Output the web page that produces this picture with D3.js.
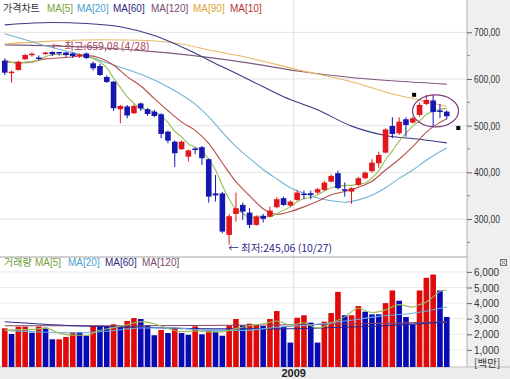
<!DOCTYPE html>
<html>
<head>
<meta charset="utf-8">
<script src="https://cdn.jsdelivr.net/npm/d3@7"></script>
<style>
  html, body { margin: 0; padding: 0; background: #fff; }
  svg { display: block; }
  text { font-family: "Liberation Sans", Arial, sans-serif; }
  .kr { font-family: "Noto Sans CJK KR", "Noto Sans", sans-serif; }
  .ax text { font-family: "Liberation Sans", Arial, sans-serif; font-size: 11px; fill: #333; }
</style>
</head>
<body>
<div id="chart"></div>
<script>
// weekly candles, 2008-03-10 .. 2009-06-08
const weeks = d3.timeMonday.range(new Date(2008, 2, 10), new Date(2009, 5, 9));

const opens = [639.2, 612.8, 619.3, 642.2, 652.5, 646.0, 654.6, 658.0, 657.8, 656.7,
  654.6, 648.2, 654.6, 633.6, 627.8, 604.3, 594.2, 535.1, 541.1, 526.5,
  547.5, 535.1, 530.0, 524.4, 487.2, 465.7, 449.5, 433.6, 451.0, 453.8,
  428.1, 354.8, 354.8, 266.0, 310.9, 330.2, 313.7, 287.4, 306.7, 305.2,
  325.3, 344.6, 328.7, 340.9, 354.4, 355.3, 356.6, 362.3, 380.1, 398.1,
  363.8, 358.7, 373.0, 387.4, 402.6, 419.5, 442.2, 499.4, 483.7, 513.7,
  506.4, 522.9, 546.5, 554.0, 532.5, 530.0];
const highs = [644.3, 617.8, 639.2, 653.5, 657.1, 650.3, 657.8, 659.08, 658.2, 658.0,
  656.7, 654.6, 656.7, 637.4, 632.1, 607.5, 595.7, 544.3, 544.3, 545.4,
  549.7, 537.9, 533.6, 526.5, 489.3, 468.3, 468.3, 449.0, 453.8, 456.5,
  429.8, 394.4, 358.1, 310.9, 356.6, 335.1, 323.2, 307.7, 310.9, 326.6,
  346.7, 348.0, 339.9, 362.3, 360.8, 360.8, 366.6, 381.6, 395.5, 403.7,
  378.4, 367.7, 390.2, 402.0, 428.1, 444.3, 494.0, 518.0, 518.0, 518.0,
  519.3, 549.2, 565.7, 565.7, 546.5, 532.5];
const lows = [608.5, 592.1, 617.8, 640.7, 647.7, 640.7, 651.4, 649.2, 650.3, 647.1,
  645.0, 645.0, 642.8, 618.2, 606.4, 591.4, 531.5, 505.1, 515.8, 525.0,
  531.5, 520.8, 518.0, 473.0, 462.3, 411.6, 448.0, 422.9, 438.8, 415.9,
  335.1, 337.3, 269.6, 245.06, 294.5, 298.1, 280.3, 285.3, 292.3, 303.9,
  323.2, 328.1, 325.9, 339.4, 342.4, 342.4, 353.8, 360.2, 378.4, 363.8,
  348.0, 332.4, 370.9, 385.2, 399.4, 409.4, 440.5, 473.0, 480.1, 476.4,
  504.7, 519.3, 544.3, 497.9, 516.5, 513.7];
const closes = [613.5, 615.6, 637.0, 651.4, 654.2, 642.8, 656.7, 652.9, 654.6, 651.4,
  649.2, 652.4, 645.0, 622.9, 608.5, 593.6, 537.3, 542.2, 521.8, 542.2,
  536.8, 525.0, 520.8, 482.2, 467.9, 440.9, 465.7, 446.9, 448.0, 430.2,
  348.0, 350.6, 273.0, 306.0, 323.2, 315.9, 287.4, 305.2, 300.2, 318.0,
  342.4, 330.2, 337.3, 356.6, 352.7, 351.6, 363.8, 378.0, 392.3, 366.0,
  360.8, 366.0, 387.4, 399.4, 420.8, 437.3, 491.9, 482.2, 508.6, 501.5,
  515.8, 544.3, 555.0, 529.3, 530.0, 520.1];

// volume (백만), and bar colour flags (R = up, B = down)
const volumes = [2385, 2020, 2490, 2490, 2100, 2490, 2420, 1680, 1680, 1830,
  2130, 2130, 1910, 2550, 2550, 2490, 2640, 2550, 2850, 3040,
  2980, 2580, 1940, 2280, 2080, 2420, 2080, 1970, 2510, 2000,
  2210, 2150, 1910, 2580, 2980, 2580, 2680, 2600, 2530, 2980,
  3490, 2470, 1470, 3060, 3220, 2750, 1470, 2810, 3360, 4720,
  3220, 3220, 3810, 3450, 3280, 3280, 4000, 4810, 4150, 3110,
  2640, 4810, 5620, 5830, 4810, 3110];
const volFlags = ("RBRRBRBBRR" + "RBBRBBRBRR" + "BBBRBRBBRB" + "RBBRRBRRBR" +
  "RBBRRBBRRR" + "BRRBBBRRBB" + "BRRRBB").split("");

// price moving averages, [week index, value]
const ma5 = [641, 636, 632, 636, 636, 641, 648, 652, 653, 652, 653, 652, 651, 644, 636, 624,
  602, 582, 562, 548, 537, 534, 529, 521, 507, 488, 476, 461, 454, 446, 428, 405, 372, 343,
  321, 313, 301, 306, 306, 305, 311, 319, 326, 337, 344, 346, 352, 360, 367, 370, 372, 372,
  375, 377, 388, 403, 427, 446, 467, 484, 499, 510, 524, 530, 535, 537];
const ma10 = [[0, 637], [3, 635], [6, 643], [9, 646], [12, 650], [14, 645], [16, 630], [18, 605],
  [20, 585], [22, 558], [24, 532], [26, 508], [28, 490], [30, 462], [32, 420], [34, 380],
  [36, 350], [38, 322], [40, 310], [42, 316], [44, 326], [46, 338], [48, 352], [50, 359],
  [52, 368], [54, 381], [56, 405], [58, 428], [60, 455], [62, 486], [64, 507], [65, 515]];
const ma20 = [[0, 697], [3, 684], [6, 671], [9, 660], [12, 649], [16, 630], [20, 610], [24, 583],
  [28, 546], [30, 519], [32, 486], [34, 455], [36, 430], [38, 406], [40, 386], [42, 367],
  [44, 355], [46, 345], [48, 339], [50, 336], [52, 341], [54, 351], [56, 367], [58, 387],
  [60, 405], [62, 426], [64, 444], [65, 452]];
const ma60 = [[0, 716], [7, 721], [12, 719], [17, 712], [22, 693], [27, 662], [32, 626], [36, 598],
  [41, 562], [46, 534], [51, 499], [56, 479], [61, 471], [65, 463]];
const ma90 = [[0, 675], [7, 681], [14, 684], [20, 683], [26, 675], [30, 662], [36, 645], [43, 620],
  [51, 594], [57, 568], [61, 555], [65, 541]];
const ma120 = [[0, 673], [7, 671], [14, 667], [24, 656], [36, 634], [43, 617], [51, 603], [58, 595],
  [65, 589]];

// volume moving averages
const vma5 = [[0, 2250], [2, 2300], [4, 2297], [6, 2398], [8, 2074], [10, 1948], [12, 1936], [14, 2254],
  [16, 2428], [18, 2616], [20, 2812], [22, 2678], [24, 2372], [26, 2160], [28, 2212], [30, 2154],
  [32, 2156], [34, 2366], [36, 2546], [38, 2674], [40, 2856], [42, 2588], [44, 2742], [46, 2394],
  [48, 2722], [50, 3116], [52, 3666], [54, 3396], [56, 3564], [58, 3904], [60, 3742], [61, 3904],
  [62, 4066], [63, 4402], [64, 4742], [65, 4836]];
const vma20 = [[0, 2250], [5, 2150], [10, 2100], [15, 2200], [20, 2400], [25, 2400], [30, 2250],
  [35, 2250], [40, 2450], [45, 2600], [50, 2850], [55, 3150], [60, 3350], [65, 3750]];
const vma60 = [[0, 2800], [10, 2550], [20, 2450], [30, 2350], [40, 2350], [50, 2450], [58, 2600], [65, 2800]];
const vma120 = [[0, 2550], [20, 2550], [40, 2600], [55, 2700], [65, 2780]];

const priceTicks = [300, 400, 500, 600, 700];
const priceMinor = [250, 350, 450, 550, 650];
const volTicks = [1000, 2000, 3000, 4000, 5000, 6000];

// marks drawn on the chart by hand in the original
const signals = [[60.2, 566], [66.7, 495]];
const circleMark = { i: 63.35, p: 531.5 };

const W = 510, H = 379;
const plotRight = 467, sepY = 257, volBottom = 367;
const RED = "#e2171c", BLUE = "#1616b0";

const svg = d3.select("#chart").append("svg").attr("width", W).attr("height", H);

const x = d3.scaleLinear().domain([0, 65]).range([4.75, 446.75]);
const y = d3.scaleLinear().domain([300, 700]).range([219, 32.3]);
const vy = d3.scaleLinear().domain([0, 6000]).range([365.5, 271.9]);
const bw = 5.6;

// backgrounds
svg.append("rect").attr("width", W).attr("height", H).attr("fill", "#fff");
svg.append("rect").attr("x", plotRight).attr("y", 0).attr("width", W - plotRight).attr("height", volBottom).attr("fill", "#efefef");
svg.append("rect").attr("x", 0).attr("y", volBottom).attr("width", W).attr("height", H - volBottom).attr("fill", "#ececec");

// grid
svg.append("g").selectAll("line").data(priceTicks).join("line")
  .attr("x1", 0).attr("x2", plotRight).attr("y1", d => y(d)).attr("y2", d => y(d))
  .attr("stroke", "#e3e3e3");
svg.append("g").selectAll("line").data(volTicks).join("line")
  .attr("x1", 0).attr("x2", plotRight).attr("y1", d => vy(d)).attr("y2", d => vy(d))
  .attr("stroke", "#ebebeb");

const k2009 = weeks.findIndex(d => d.getFullYear() === 2009);
const x2009 = (x(k2009 - 1) + x(k2009)) / 2;
svg.append("line").attr("x1", x2009).attr("x2", x2009).attr("y1", 0).attr("y2", volBottom)
  .attr("stroke", "#dedede");

// frame lines
svg.append("line").attr("x1", 0).attr("x2", plotRight).attr("y1", sepY).attr("y2", sepY).attr("stroke", "#a0a0a0");
svg.append("line").attr("x1", plotRight).attr("x2", plotRight).attr("y1", 0).attr("y2", volBottom).attr("stroke", "#b4b4b4");
svg.append("line").attr("x1", 0).attr("x2", W).attr("y1", volBottom).attr("y2", volBottom).attr("stroke", "#bdbdbd");

// price MAs (behind candles)
const line = d3.line().x(d => x(d[0])).y(d => y(d[1])).curve(d3.curveMonotoneX);
const priceLines = [
  [ma120, "#7e5a7c"], [ma90, "#e8b868"], [ma60, "#3a3a88"],
  [ma20, "#74b2d2"], [ma10, "#b8504a"], [ma5.map((v, i) => [i, v]), "#9cbc5a"]
];
priceLines.forEach(([data, color]) => {
  svg.append("path").datum(data).attr("d", line)
    .attr("fill", "none").attr("stroke", color).attr("stroke-width", 1.1);
});

// candles
const candles = svg.append("g").selectAll("g").data(d3.range(weeks.length)).join("g");
candles.append("line")
  .attr("x1", i => x(i)).attr("x2", i => x(i))
  .attr("y1", i => y(highs[i])).attr("y2", i => y(lows[i]))
  .attr("stroke", i => closes[i] >= opens[i] ? RED : BLUE);
candles.append("rect")
  .attr("x", i => x(i) - bw / 2).attr("width", bw)
  .attr("y", i => y(Math.max(opens[i], closes[i])))
  .attr("height", i => Math.max(1.5, Math.abs(y(opens[i]) - y(closes[i]))))
  .attr("fill", i => closes[i] >= opens[i] ? RED : BLUE);

// volume bars
svg.append("g").selectAll("rect").data(volumes).join("rect")
  .attr("x", (d, i) => x(i) - bw / 2).attr("width", bw)
  .attr("y", d => vy(d)).attr("height", d => volBottom - vy(d))
  .attr("fill", (d, i) => volFlags[i] === "R" ? "#e00a0a" : "#0a0ab4");

const vline = d3.line().x(d => x(d[0])).y(d => vy(d[1])).curve(d3.curveMonotoneX);
[[vma120, "#86446a"], [vma60, "#2a2a96"], [vma20, "#6aaee6"], [vma5, "#9cbc5a"]].forEach(([data, color]) => {
  svg.append("path").datum(data).attr("d", vline)
    .attr("fill", "none").attr("stroke", color).attr("stroke-width", 1.1);
});

// right axes
const fmtPrice = d => d3.format(".2f")(d).replace(".", ",");
const pAxis = svg.append("g").attr("class", "ax").attr("transform", `translate(${plotRight},0)`)
  .call(d3.axisRight(y).tickValues(priceTicks).tickSize(5).tickPadding(2).tickFormat(fmtPrice));
pAxis.select(".domain").remove();
pAxis.selectAll("line").attr("stroke", "#666");
pAxis.selectAll("text").attr("textLength", 26).attr("lengthAdjust", "spacingAndGlyphs");
svg.append("g").selectAll("line").data(priceMinor).join("line")
  .attr("x1", plotRight).attr("x2", plotRight + 3).attr("y1", d => y(d)).attr("y2", d => y(d))
  .attr("stroke", "#888");

const vAxis = svg.append("g").attr("class", "ax").attr("transform", `translate(${plotRight},0)`)
  .call(d3.axisRight(vy).tickValues(volTicks).tickSize(5).tickPadding(2).tickFormat(d3.format(",")));
vAxis.select(".domain").remove();
vAxis.selectAll("line").attr("stroke", "#666");
vAxis.selectAll("text").attr("textLength", 25).attr("lengthAdjust", "spacingAndGlyphs");
svg.append("text").attr("class", "kr").attr("x", 474).attr("y", 366.5)
  .attr("font-size", 10.5).attr("fill", "#333").text("[백만]");

// small close box on the volume pane
svg.append("rect").attr("x", 500.5).attr("y", 259.5).attr("width", 6).attr("height", 6)
  .attr("fill", "none").attr("stroke", "#777");
svg.append("path").attr("d", "M501.5,260.5L505.5,264.5M505.5,260.5L501.5,264.5").attr("stroke", "#777");

// x label
svg.append("text").attr("x", x2009).attr("y", 377).attr("text-anchor", "middle")
  .attr("font-size", 11).attr("font-weight", "bold").attr("fill", "#222").text("2009");

// legends
const priceLegend = [["가격차트", 3, "#333"], ["MA[5]", 47, "#7aa23e"], ["MA[20]", 77, "#4a9fd0"],
  ["MA[60]", 113, "#2c2c7c"], ["MA[120]", 151, "#7a4a6e"], ["MA[90]", 193, "#e0a434"], ["MA[10]", 230, "#b43434"]];
svg.append("g").selectAll("text").data(priceLegend).join("text")
  .attr("class", (d, i) => i === 0 ? "kr" : null)
  .attr("x", d => d[1]).attr("y", 12).attr("font-size", 10).attr("fill", d => d[2]).text(d => d[0]);

const volLegend = [["거래량", 4, "#6e9a3c"], ["MA[5]", 35, "#7aa23e"], ["MA[20]", 68, "#4a9fd0"],
  ["MA[60]", 105, "#2c2c7c"], ["MA[120]", 142, "#7a4a6e"]];
svg.append("g").selectAll("text").data(volLegend).join("text")
  .attr("class", (d, i) => i === 0 ? "kr" : null)
  .attr("x", d => d[1]).attr("y", 266).attr("font-size", 10).attr("fill", d => d[2]).text(d => d[0]);

// high / low notes
const hiIdx = highs.indexOf(d3.max(highs));
const loIdx = lows.indexOf(d3.min(lows));
const fmtDate = d3.timeFormat("%-m/%-d");
svg.append("text").attr("class", "kr").attr("x", x(hiIdx) - 1).attr("y", 50)
  .attr("font-size", 10.5).attr("fill", "#a8405a")
  .text("← 최고:" + fmtPrice(highs[hiIdx]) + " (" + fmtDate(weeks[hiIdx]) + ")");
svg.append("text").attr("class", "kr").attr("x", x(loIdx) - 1).attr("y", 252)
  .attr("font-size", 10.5).attr("fill", "#2c2c8c")
  .text("← 최저:" + fmtPrice(lows[loIdx]) + " (" + fmtDate(weeks[loIdx]) + ")");

// black signal squares and the circled area
svg.append("g").selectAll("rect").data(signals).join("rect")
  .attr("x", d => x(d[0]) - 2).attr("y", d => y(d[1]) - 2).attr("width", 4).attr("height", 4)
  .attr("fill", "#000");
svg.append("ellipse").attr("cx", x(circleMark.i)).attr("cy", y(circleMark.p))
  .attr("rx", 23).attr("ry", 16).attr("fill", "none").attr("stroke", "#7c3c7c").attr("stroke-width", 1.2);
</script>
</body>
</html>
